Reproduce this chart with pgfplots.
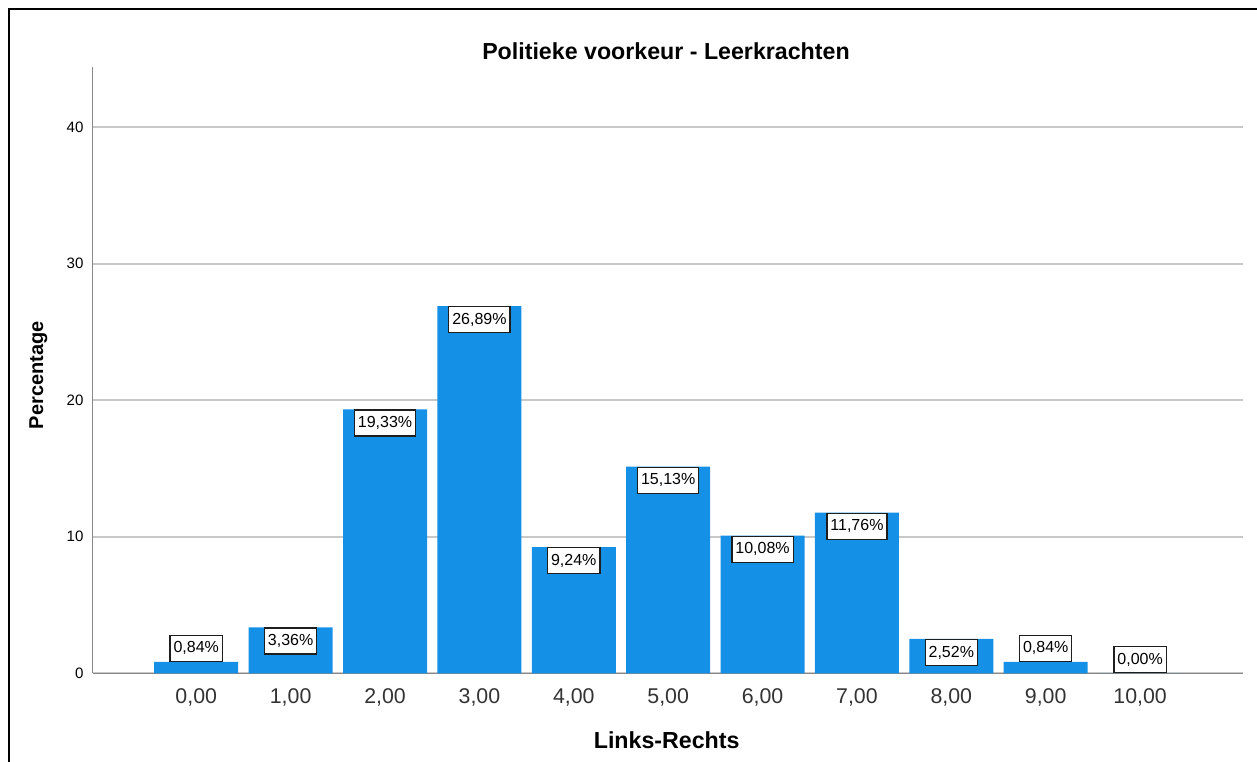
\documentclass[border=0pt]{standalone}
\usepackage{pgfplots}
\pgfplotsset{compat=1.18}
\usepackage{fontspec}
\setmainfont{Liberation Sans}
\definecolor{barblue}{RGB}{20,144,230}
\definecolor{gridgray}{RGB}{200,200,200}
\definecolor{axisgray}{RGB}{136,136,136}
\definecolor{ticktext}{RGB}{51,51,51}
\definecolor{boxline}{RGB}{30,30,30}
\begin{document}
\begin{tikzpicture}
\path[use as bounding box] (0,0) rectangle (942.75pt,571.5pt);
\begin{axis}[
  scale only axis, width=862.7pt, height=455pt,
  at={(69.525pt,66.525pt)}, anchor=south west,
  xmin=-1.097, xmax=11.09, ymin=0, ymax=44.44,
  axis x line*=bottom, axis y line*=left,
  axis line style={axisgray, line width=1.1pt},
  xtick={0,...,10},
  xticklabels={{0,00},{1,00},{2,00},{3,00},{4,00},{5,00},{6,00},{7,00},{8,00},{9,00},{10,00}},
  ytick={0,10,20,30,40},
  major tick length=0pt,
  ymajorgrids, grid style={gridgray, line width=1.3pt},
  xticklabel style={font=\fontsize{16}{16}\selectfont, text=ticktext, inner sep=0pt, anchor=north, yshift=-11.25pt},
  yticklabel style={font=\fontsize{11.3}{11.3}\selectfont, inner sep=0pt, anchor=east, xshift=-6.75pt},
  /pgf/number format/assume math mode=true,
  clip=false,
  lbl/.style={draw=none, mark=none, point meta=y,
    nodes near coords={\pgfmathprintnumber[fixed,fixed zerofill,precision=2,use comma,assume math mode=true]{\pgfplotspointmeta}\%},
    every node near coord/.append style={draw=boxline, line width=0.9pt, fill=white, text=black,
      inner xsep=2.6pt, inner ysep=0pt, minimum height=19.5pt, font=\fontsize{12}{12}\selectfont}},
]
\addplot[ybar, bar width=0.89, fill=barblue, draw=none] coordinates {
  (0,0.84) (1,3.36) (2,19.33) (3,26.89) (4,9.24) (5,15.13) (6,10.08) (7,11.76) (8,2.52) (9,0.84) (10,0.00)};
\addplot[lbl, every node near coord/.append style={anchor=north}] coordinates {
  (1,3.36) (2,19.33) (3,26.89) (4,9.24) (5,15.13) (6,10.08) (7,11.76) (8,2.52)};
\addplot[lbl, every node near coord/.append style={anchor=south}] coordinates {
  (0,0.84) (9,0.84) (10,0.00)};
\end{axis}
\draw[black, line width=2pt] (6.75pt,0pt) -- (6.75pt,564.75pt) -- (942.75pt,564.75pt);
\node[font=\bfseries\fontsize{17.4}{18}\selectfont, anchor=base, inner sep=0pt] at (499.5pt,527pt) {Politieke voorkeur - Leerkrachten};
\node[font=\bfseries\fontsize{17.4}{18}\selectfont, anchor=base, inner sep=0pt] at (500pt,10.3pt) {Links-Rechts};
\node[font=\bfseries\fontsize{15}{16}\selectfont, anchor=base, inner sep=0pt, rotate=90] at (32.25pt,290pt) {Percentage};
\end{tikzpicture}
\end{document}
